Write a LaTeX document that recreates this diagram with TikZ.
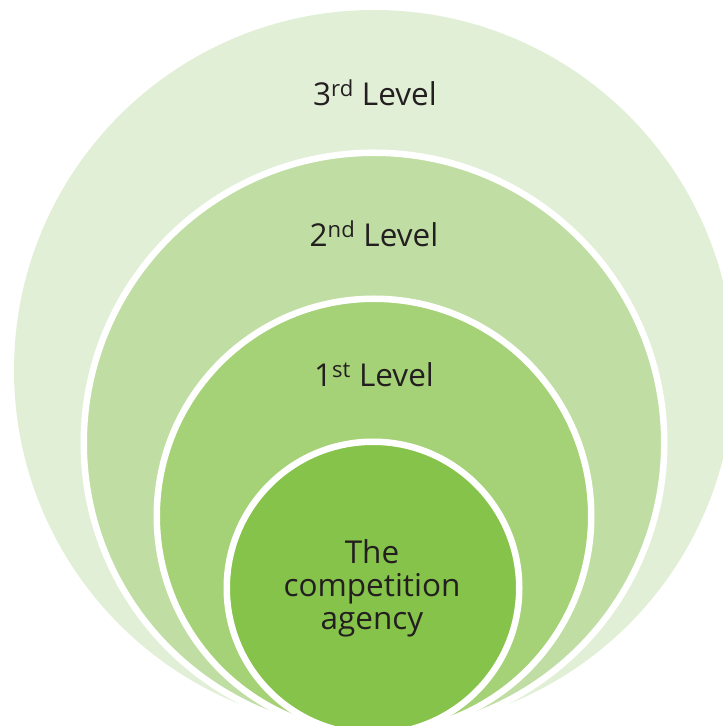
\documentclass[tikz,border=0pt]{standalone}
\usepackage{fontspec}
\setmainfont{Open Sans}
\definecolor{ringA}{HTML}{E2EFD7}
\definecolor{ringB}{HTML}{C0DEA3}
\definecolor{ringC}{HTML}{A5D277}
\definecolor{ringD}{HTML}{85C34A}
\definecolor{txt}{HTML}{231F20}
\tikzset{
  ring/.style={circle, inner sep=0pt, outer sep=0pt, draw=white, line width=6.5pt},
  lbl/.style={text=txt, font=\fontsize{31.5}{33}\selectfont, inner sep=0pt},
}
\begin{document}
\begin{tikzpicture}[x=1pt,y=1pt]
\useasboundingbox (0,0) rectangle (723,726);
\clip (0,0) rectangle (723,726);
\node[ring, fill=ringA, draw=none, minimum size=720pt] (outer) at (374,356) {};
\node[ring, fill=ringB, minimum size=580.5pt] (second) at (374,283) {};
\node[ring, fill=ringC, minimum size=434.5pt] (first) at (374,210) {};
\node[ring, fill=ringD, minimum size=292.5pt] (agency) at (373,138) {};
\node[lbl, anchor=base] (l3) at (375,620) {3\textsuperscript{rd} Level};
\node[lbl, anchor=base] (l2) at (374,479) {2\textsuperscript{nd} Level};
\node[lbl, anchor=base] (l1) at (374,339) {1\textsuperscript{st} Level};
\node[lbl, align=center] (ag) at (372,137.5) {The\\competition\\agency};
\end{tikzpicture}
\end{document}
